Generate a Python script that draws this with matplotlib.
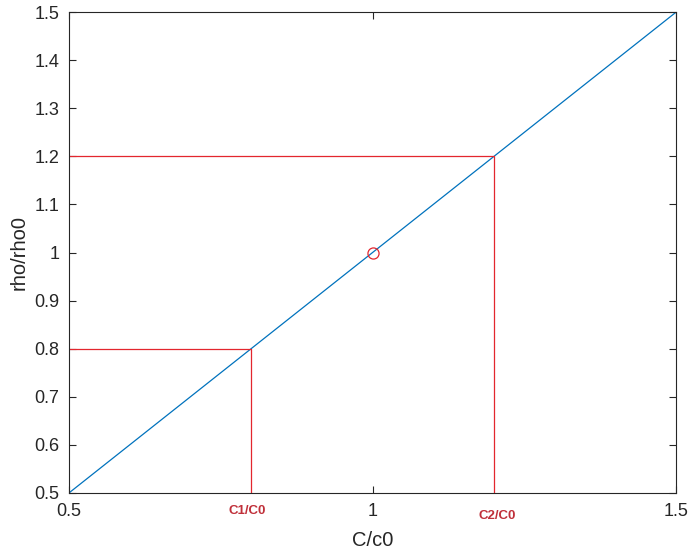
import numpy as np
import matplotlib.pyplot as plt

plt.rcParams['font.family'] = ['Liberation Sans', 'DejaVu Sans']

# ratio range and the two marked operating points
c_ratio = [0.5, 1.5]
rho_ratio = [0.5, 1.5]
c1, rho1 = 0.8, 0.8
c2, rho2 = 1.2, 1.2
ref_pt = (1.0, 1.0)
xticks = [0.5, 1, 1.5]
yticks = [0.5, 0.6, 0.7, 0.8, 0.9, 1.0, 1.1, 1.2, 1.3, 1.4, 1.5]
ytick_labels = ['0.5', '0.6', '0.7', '0.8', '0.9', '1', '1.1', '1.2', '1.3', '1.4', '1.5']

fig = plt.figure(figsize=(6.92, 5.52), dpi=100)
ax = fig.add_axes([0.0997, 0.107, 0.8773, 0.871])

ax.plot(c_ratio, rho_ratio, color='#0072BD', lw=0.9)
red = '#E3262E'
ax.plot([c1, c1, 0.5], [0.5, rho1, rho1], color=red, lw=0.9)
ax.plot([c2, c2, 0.5], [0.5, rho2, rho2], color=red, lw=0.9)
ax.plot(*ref_pt, 'o', mfc='none', mec=red, ms=8, mew=0.9)

ax.set_xlim(0.5, 1.5)
ax.set_ylim(0.5, 1.5)
ax.set_xticks(xticks)
ax.set_xticklabels(['0.5', '1', '1.5'])
ax.set_yticks(yticks)
ax.set_yticklabels(ytick_labels)
ax.tick_params(direction='in', top=True, right=True, length=5, width=0.8,
               labelsize=13, colors='#262626', pad=7)
for s in ax.spines.values():
    s.set_color('#262626')
    s.set_linewidth(0.8)

ax.set_xlabel('C/c0', fontsize=14.5, color='#262626', labelpad=8)
ax.set_ylabel('rho/rho0', fontsize=14.5, color='#262626', labelpad=4)

lab_font = dict(color='#C0303A', fontsize=9.5, fontweight='bold', family=['Liberation Sans', 'DejaVu Sans'],
                ha='center', va='center', transform=ax.get_xaxis_transform())
ax.text(c1 - 0.006, -0.038, 'C1/C0', **lab_font)
ax.text(c2 + 0.006, -0.048, 'C2/C0', **lab_font)

fig.savefig('out.png', dpi=100)
